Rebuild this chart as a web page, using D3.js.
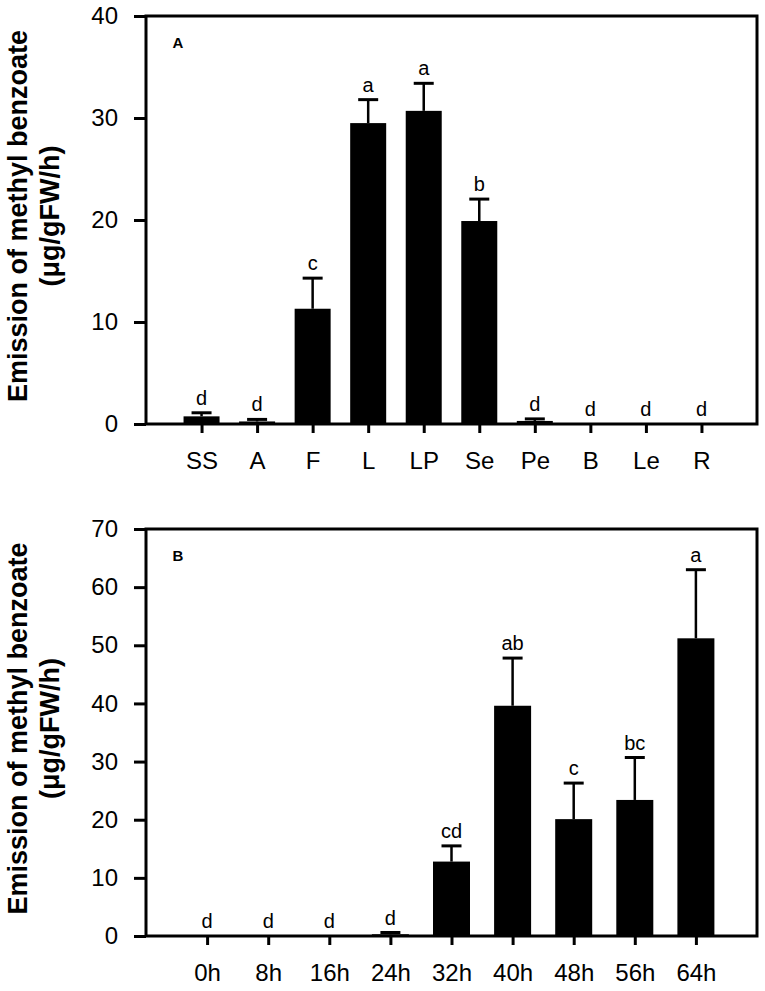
<!DOCTYPE html>
<html>
<head>
<meta charset="utf-8">
<script src="https://cdn.jsdelivr.net/npm/d3@7"></script>
<style>
  body { margin: 0; background: #fff; }
  svg { display: block; font-family: "Liberation Sans", Arial, sans-serif; }
</style>
</head>
<body>
<svg id="chart" width="765" height="991"></svg>
<script>
// panel A: organs
var catsA = ['SS', 'A', 'F', 'L', 'LP', 'Se', 'Pe', 'B', 'Le', 'R'];
var meanA = [0.75, 0.25, 11.3, 29.5, 30.7, 19.9, 0.3, 0, 0, 0];
var errA = [0.35, 0.2, 3.0, 2.3, 2.7, 2.15, 0.2, 0, 0, 0];
var lettersA = ['d', 'd', 'c', 'a', 'a', 'b', 'd', 'd', 'd', 'd'];
var ticksA = [0, 10, 20, 30, 40];

// panel B: time course
var catsB = ['0h', '8h', '16h', '24h', '32h', '40h', '48h', '56h', '64h'];
var meanB = [0, 0, 0, 0.3, 12.8, 39.6, 20.1, 23.4, 51.2];
var errB = [0, 0, 0, 0.3, 2.7, 8.2, 6.2, 7.3, 11.8];
var lettersB = ['d', 'd', 'd', 'd', 'cd', 'ab', 'c', 'bc', 'a'];
var ticksB = [0, 10, 20, 30, 40, 50, 60, 70];

var svg = d3.select('#chart');
var left = 146, right = 757;

function drawPanel(opt) {
    var g = svg.append('g');
    var x = d3.scalePoint().domain(opt.cats).range([left, right]).padding(1);
    var y = d3.scaleLinear().domain([0, opt.max]).range([opt.bottom, opt.top]);

    var rows = opt.cats.map(function (c, i) {
        return { cat: c, mean: opt.mean[i], err: opt.err[i], letter: opt.letters[i] };
    });

    // bars
    g.selectAll('rect.bar').data(rows.filter(function (d) { return d.mean > 0; }))
        .enter().append('rect')
        .attr('class', 'bar')
        .attr('x', function (d) { return x(d.cat) - opt.barW / 2; })
        .attr('width', opt.barW)
        .attr('y', function (d) { return y(d.mean); })
        .attr('height', function (d) { return y(0) - y(d.mean); })
        .attr('fill', '#000');

    // error bars (upper only)
    var eb = g.selectAll('g.err').data(rows.filter(function (d) { return d.err > 0; }))
        .enter().append('g').attr('class', 'err');
    eb.append('line')
        .attr('x1', function (d) { return x(d.cat); })
        .attr('x2', function (d) { return x(d.cat); })
        .attr('y1', function (d) { return y(d.mean); })
        .attr('y2', function (d) { return y(d.mean + d.err); })
        .attr('stroke', '#000').attr('stroke-width', 2.5);
    eb.append('line')
        .attr('x1', function (d) { return x(d.cat) - 10; })
        .attr('x2', function (d) { return x(d.cat) + 10; })
        .attr('y1', function (d) { return y(d.mean + d.err); })
        .attr('y2', function (d) { return y(d.mean + d.err); })
        .attr('stroke', '#000').attr('stroke-width', 3);

    // significance letters
    g.selectAll('text.letter').data(rows)
        .enter().append('text')
        .attr('class', 'letter')
        .attr('x', function (d) { return x(d.cat); })
        .attr('y', function (d) { return y(d.mean + d.err) - 8; })
        .attr('text-anchor', 'middle')
        .attr('font-size', 20)
        .text(function (d) { return d.letter; });

    // frame
    g.append('rect')
        .attr('x', left).attr('y', opt.top)
        .attr('width', right - left).attr('height', opt.bottom - opt.top)
        .attr('fill', 'none').attr('stroke', '#000').attr('stroke-width', 3);

    // axes
    var yAxis = g.append('g')
        .attr('transform', 'translate(' + left + ',0)')
        .call(d3.axisLeft(y).tickValues(opt.ticks).tickSize(12).tickPadding(16));
    var xAxis = g.append('g')
        .attr('transform', 'translate(0,' + opt.bottom + ')')
        .call(d3.axisBottom(x).tickSize(9).tickPadding(19));
    [yAxis, xAxis].forEach(function (a) {
        a.select('.domain').remove();
        a.selectAll('line').attr('stroke', '#000').attr('stroke-width', 3);
        a.selectAll('text').attr('fill', '#000').attr('font-size', 24)
            .style('font-family', '"Liberation Sans", Arial, sans-serif');
    });

    // panel tag
    g.append('text')
        .attr('x', 178).attr('y', opt.top + 32)
        .attr('text-anchor', 'middle')
        .attr('font-size', 15).attr('font-weight', 'bold')
        .text(opt.tag);

    // y title, two lines
    var cy = (opt.top + opt.bottom) / 2 - 4;
    var title = g.append('g').attr('font-weight', 'bold').attr('font-size', 27)
        .attr('text-anchor', 'middle');
    title.append('text')
        .attr('transform', 'translate(27,' + cy + ') rotate(-90)')
        .text('Emission of methyl benzoate');
    title.append('text')
        .attr('transform', 'translate(59,' + cy + ') rotate(-90)')
        .text('(\u03bcg/gFW/h)');
}

drawPanel({ cats: catsA, mean: meanA, err: errA, letters: lettersA, ticks: ticksA,
            max: 40, top: 16, bottom: 424, barW: 36, tag: 'A' });
drawPanel({ cats: catsB, mean: meanB, err: errB, letters: lettersB, ticks: ticksB,
            max: 70, top: 529, bottom: 936, barW: 37, tag: 'B' });
</script>
</body>
</html>
